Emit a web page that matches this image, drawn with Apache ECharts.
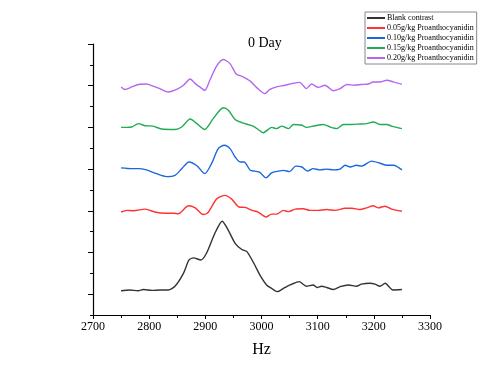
<!DOCTYPE html>
<html>
<head>
<meta charset="utf-8">
<script src="https://cdn.jsdelivr.net/npm/echarts@6/dist/echarts.min.js"></script>
<style>
  html, body { margin: 0; padding: 0; background: #fff; }
  #chart { width: 504px; height: 378px; }
</style>
</head>
<body>
<div id="chart"></div>
<script>
// spectra, already stacked by vertical offset (blank 0, then 2, 3, 4, 5)
const blank = [[2750,0.08],[2765,0.10],[2780,0.08],[2790,0.11],[2805,0.09],[2820,0.10],[2834,0.10],[2846,0.19],[2861,0.50],[2871,0.82],[2879,0.87],[2892,0.82],[2902,0.98],[2917,1.46],[2930,1.75],[2941,1.53],[2953,1.22],[2965,1.07],[2974,1.02],[2988,0.70],[2997,0.46],[3009,0.22],[3018,0.14],[3028,0.06],[3042,0.16],[3054,0.24],[3067,0.30],[3080,0.19],[3092,0.22],[3099,0.16],[3107,0.19],[3116,0.16],[3128,0.11],[3140,0.18],[3155,0.22],[3169,0.19],[3178,0.24],[3193,0.26],[3202,0.24],[3211,0.19],[3220,0.26],[3234,0.10],[3250,0.11]];
const pa005 = [[2750,1.97],[2760,2.01],[2772,2.00],[2793,2.04],[2810,1.97],[2828,1.94],[2843,1.94],[2852,1.93],[2870,2.12],[2882,2.07],[2896,1.91],[2905,1.96],[2920,2.28],[2935,2.37],[2947,2.28],[2960,2.09],[2971,2.08],[2983,2.01],[2994,1.97],[3008,1.85],[3018,1.92],[3027,1.92],[3039,2.01],[3048,1.98],[3060,2.04],[3074,2.05],[3086,2.01],[3101,2.01],[3116,2.03],[3131,2.01],[3149,2.06],[3161,2.06],[3175,2.03],[3187,2.07],[3199,2.12],[3208,2.07],[3220,2.11],[3232,2.04],[3250,1.99]];
const pa010 = [[2750,3.03],[2769,3.01],[2781,3.01],[2795,2.98],[2813,2.89],[2831,2.82],[2846,2.85],[2858,3.01],[2871,3.17],[2885,3.08],[2899,2.89],[2911,3.13],[2923,3.49],[2934,3.57],[2944,3.49],[2953,3.29],[2962,3.17],[2969,3.17],[2980,2.97],[2988,2.95],[2997,2.92],[3008,2.79],[3018,2.91],[3030,2.95],[3039,2.97],[3050,2.94],[3061,3.07],[3072,3.05],[3082,2.95],[3092,3.01],[3104,2.98],[3116,3.00],[3128,2.98],[3140,3.00],[3149,3.09],[3158,3.05],[3169,3.09],[3178,3.07],[3196,3.19],[3211,3.14],[3223,3.09],[3235,3.09],[3250,2.98]];
const pa015 = [[2750,4.00],[2760,4.00],[2769,4.01],[2781,4.09],[2793,4.04],[2807,4.03],[2822,3.96],[2846,3.95],[2858,4.01],[2873,4.20],[2885,4.09],[2899,3.95],[2914,4.21],[2932,4.47],[2941,4.41],[2953,4.19],[2966,4.11],[2985,4.03],[2994,3.95],[3003,3.87],[3018,4.00],[3027,3.97],[3036,4.03],[3048,3.97],[3057,4.07],[3072,4.05],[3080,4.00],[3095,4.04],[3110,4.07],[3122,4.01],[3134,3.97],[3146,4.07],[3161,4.07],[3175,4.08],[3187,4.09],[3199,4.13],[3211,4.07],[3223,4.07],[3232,4.03],[3250,3.97]];
const pa020 = [[2750,4.97],[2757,4.91],[2769,4.97],[2781,5.03],[2795,5.04],[2807,4.99],[2819,4.93],[2834,4.85],[2849,4.91],[2861,5.01],[2873,5.16],[2882,5.05],[2890,4.97],[2899,4.89],[2908,5.13],[2920,5.47],[2932,5.63],[2944,5.53],[2955,5.28],[2966,5.22],[2980,5.11],[2991,4.96],[3006,4.81],[3015,4.91],[3027,4.97],[3042,5.01],[3054,5.05],[3068,5.08],[3080,4.93],[3089,5.04],[3101,4.96],[3113,5.01],[3128,4.88],[3140,4.93],[3152,5.03],[3166,5.01],[3178,5.03],[3190,5.04],[3199,5.09],[3211,5.09],[3223,5.13],[3235,5.09],[3250,5.03]];

const seriesNames = ['Blank contrast', '0.05g/kg Proanthocyanidin', '0.10g/kg Proanthocyanidin', '0.15g/kg Proanthocyanidin', '0.20g/kg Proanthocyanidin'];
const seriesData = [blank, pa005, pa010, pa015, pa020];
const colors = ['#333333', '#ff3333', '#1a66dd', '#22aa55', '#b366ee'];
const majorTicks = [0, 1, 2, 3, 4, 5, 6];

const serif = '"Liberation Serif", "Times New Roman", serif';
const chart = echarts.init(document.getElementById('chart'));

chart.setOption({
    animation: false,
    title: {
        text: '0 Day',
        left: 243, top: 31,
        textStyle: { fontFamily: serif, fontSize: 14, fontWeight: 'normal', color: '#000' }
    },
    legend: {
        orient: 'vertical',
        left: 365, top: 12,
        padding: [1, 3, 1, 2],
        itemGap: 0,
        itemWidth: 18, itemHeight: 2,
        icon: 'rect',
        borderColor: '#888', borderWidth: 1,
        textStyle: { fontFamily: serif, fontSize: 8, color: '#000', lineHeight: 10, padding: [0, 0, 0, -3] },
        data: seriesNames
    },
    grid: { left: 93, right: 74, top: 44, bottom: 63 },
    xAxis: {
        type: 'value', min: 2700, max: 3300, interval: 100,
        name: 'Hz', nameLocation: 'middle', nameGap: 27,
        nameTextStyle: { fontFamily: serif, fontSize: 16, color: '#000' },
        axisLine: { onZero: false, lineStyle: { color: '#000', width: 1.2 } },
        axisTick: { length: 4, lineStyle: { color: '#000' } },
        minorTick: { show: true, splitNumber: 2, length: 3, lineStyle: { color: '#000' } },
        axisLabel: { fontFamily: serif, fontSize: 12, color: '#000', margin: 6, formatter: v => String(v) },
        splitLine: { show: false }
    },
    yAxis: [{
        type: 'value', min: -0.5, max: 6, interval: 0.5,
        axisLine: { show: true, lineStyle: { color: '#000', width: 1.2 } },
        axisTick: { show: true, length: 3, lineStyle: { color: '#000' } },
        axisLabel: { show: false },
        splitLine: { show: false }
    }, {
        type: 'value', min: -0.5, max: 6, position: 'left',
        axisLine: { show: false },
        axisTick: { show: true, length: 5, customValues: majorTicks, lineStyle: { color: '#000' } },
        axisLabel: { show: false },
        splitLine: { show: false }
    }],
    series: seriesNames.map((name, i) => ({
        name: name,
        type: 'line',
        data: seriesData[i],
        smooth: 0.25,
        showSymbol: false,
        symbol: 'none',
        color: colors[i],
        lineStyle: { width: 1.4, color: colors[i] }
    }))
});
</script>
</body>
</html>
